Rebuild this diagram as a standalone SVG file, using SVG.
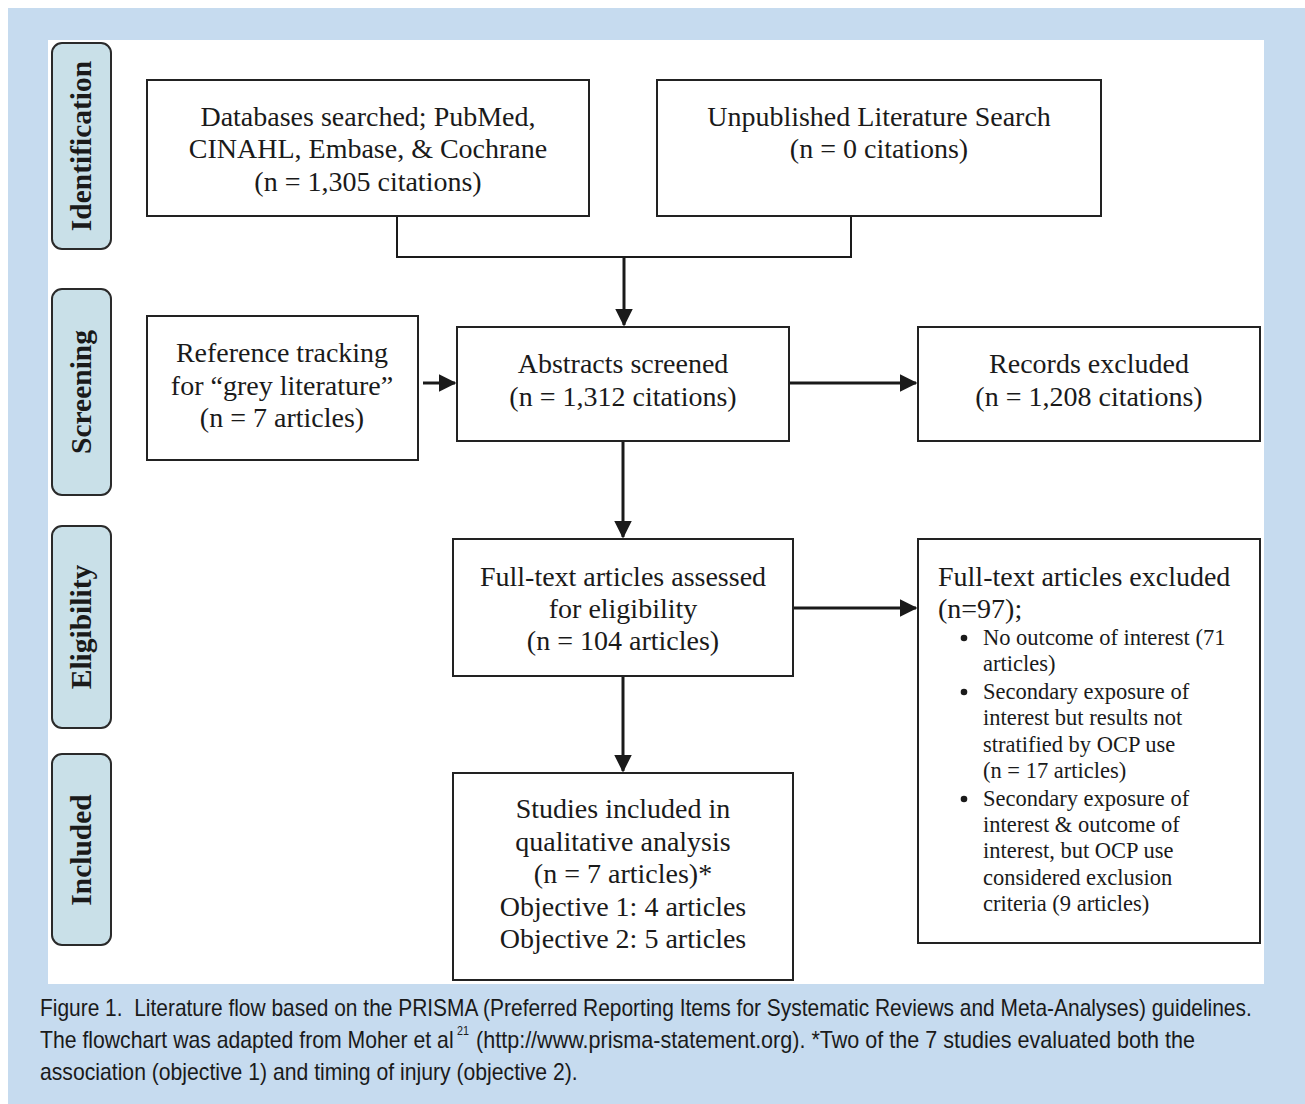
<svg xmlns="http://www.w3.org/2000/svg" width="1305" height="1104" viewBox="0 0 1305 1104">
<defs>
<style>
.bg{fill:#c6dbef}
.panel{fill:#ffffff}
.box{fill:#ffffff;stroke:#222;stroke-width:2}
.tab{fill:#c9e0e8;stroke:#2a2a2a;stroke-width:2}
.t{font-family:"Liberation Serif","Times New Roman",serif;font-size:28px;fill:#1a1a1a;text-anchor:middle}
.tl{font-family:"Liberation Serif","Times New Roman",serif;font-size:28px;fill:#1a1a1a}
.tb{font-family:"Liberation Serif","Times New Roman",serif;font-size:22.5px;fill:#1a1a1a}
.side{font-family:"Liberation Serif","Times New Roman",serif;font-size:29.5px;font-weight:bold;fill:#1a1a1a;text-anchor:middle}
.cap{font-family:"Liberation Sans",Arial,sans-serif;font-size:23px;fill:#1a1a1a}
.sup{font-family:"Liberation Sans",Arial,sans-serif;font-size:13px;fill:#1a1a1a}
.ln{fill:none;stroke:#1a1a1a;stroke-width:2}
.ar{fill:none;stroke:#1a1a1a;stroke-width:3;marker-end:url(#ah)}
</style>
<marker id="ah" markerWidth="6" markerHeight="6" refX="5.5" refY="3" orient="auto" markerUnits="strokeWidth" viewBox="0 0 6 6">
<path d="M0,0 L6,3 L0,6 z" fill="#1a1a1a"/>
</marker>
</defs>
<rect class="bg" x="8" y="8" width="1297" height="1096"/>
<rect class="panel" x="48" y="40" width="1216" height="944"/>

<g id="tab-identification">
<rect class="tab" x="52" y="43" width="59" height="206" rx="10"/>
<text class="side" transform="translate(91,146) rotate(-90)">Identification</text>
</g>
<g id="tab-screening">
<rect class="tab" x="52" y="289" width="59" height="206" rx="10"/>
<text class="side" transform="translate(91,392) rotate(-90)">Screening</text>
</g>
<g id="tab-eligibility">
<rect class="tab" x="52" y="526" width="59" height="202" rx="10"/>
<text class="side" transform="translate(91,627) rotate(-90)">Eligibility</text>
</g>
<g id="tab-included">
<rect class="tab" x="52" y="754" width="59" height="191" rx="10"/>
<text class="side" transform="translate(91,850) rotate(-90)">Included</text>
</g>

<g id="connectors">
<path class="ln" d="M397,216 V257 H851 V216"/>
<path class="ar" d="M624,257 V325"/>
<path class="ar" d="M423,383 H455"/>
<path class="ar" d="M789,383 H916"/>
<path class="ar" d="M623,441 V537"/>
<path class="ar" d="M793,608 H916"/>
<path class="ar" d="M623,676 V771"/>
</g>

<g id="n-databases">
<rect class="box" x="147" y="80" width="442" height="136"/>
<text class="t" x="368" y="126">Databases searched; PubMed,</text>
<text class="t" x="368" y="158">CINAHL, Embase, &amp; Cochrane</text>
<text class="t" x="368" y="191">(n = 1,305 citations)</text>
</g>
<g id="n-unpublished">
<rect class="box" x="657" y="80" width="444" height="136"/>
<text class="t" x="879" y="126">Unpublished Literature Search</text>
<text class="t" x="879" y="158">(n = 0 citations)</text>
</g>
<g id="n-reference">
<rect class="box" x="147" y="316" width="271" height="144"/>
<text class="t" x="282" y="362">Reference tracking</text>
<text class="t" x="282" y="395">for “grey literature”</text>
<text class="t" x="282" y="427">(n = 7 articles)</text>
</g>
<g id="n-abstracts">
<rect class="box" x="457" y="327" width="332" height="114"/>
<text class="t" x="623" y="373">Abstracts screened</text>
<text class="t" x="623" y="406">(n = 1,312 citations)</text>
</g>
<g id="n-records">
<rect class="box" x="918" y="327" width="342" height="114"/>
<text class="t" x="1089" y="373">Records excluded</text>
<text class="t" x="1089" y="406">(n = 1,208 citations)</text>
</g>
<g id="n-fulltext">
<rect class="box" x="453" y="539" width="340" height="137"/>
<text class="t" x="623" y="586">Full-text articles assessed</text>
<text class="t" x="623" y="618">for eligibility</text>
<text class="t" x="623" y="650">(n = 104 articles)</text>
</g>
<g id="n-excluded">
<rect class="box" x="918" y="539" width="342" height="404"/>
<text class="tl" x="938" y="586">Full-text articles excluded</text>
<text class="tl" x="938" y="618">(n=97);</text>
<circle cx="964" cy="638" r="3.3" fill="#1a1a1a"/>
<circle cx="964" cy="692" r="3.3" fill="#1a1a1a"/>
<circle cx="964" cy="799" r="3.3" fill="#1a1a1a"/>
<text class="tb" x="983" y="645">No outcome of interest (71</text>
<text class="tb" x="983" y="671">articles)</text>
<text class="tb" x="983" y="699">Secondary exposure of</text>
<text class="tb" x="983" y="725">interest but results not</text>
<text class="tb" x="983" y="752">stratified by OCP use</text>
<text class="tb" x="983" y="778">(n = 17 articles)</text>
<text class="tb" x="983" y="806">Secondary exposure of</text>
<text class="tb" x="983" y="832">interest &amp; outcome of</text>
<text class="tb" x="983" y="858">interest, but OCP use</text>
<text class="tb" x="983" y="885">considered exclusion</text>
<text class="tb" x="983" y="911">criteria (9 articles)</text>
</g>
<g id="n-included">
<rect class="box" x="453" y="773" width="340" height="207"/>
<text class="t" x="623" y="818">Studies included in</text>
<text class="t" x="623" y="851">qualitative analysis</text>
<text class="t" x="623" y="883">(n = 7 articles)*</text>
<text class="t" x="623" y="916">Objective 1: 4 articles</text>
<text class="t" x="623" y="948">Objective 2: 5 articles</text>
</g>

<g id="caption">
<text class="cap" transform="translate(40,1016) scale(0.88,1)" x="0" y="0" textLength="1377" lengthAdjust="spacingAndGlyphs" xml:space="preserve">Figure 1.  Literature flow based on the PRISMA (Preferred Reporting Items for Systematic Reviews and Meta-Analyses) guidelines.</text>
<text class="cap" transform="translate(40,1048) scale(0.88,1)" x="0" y="0" textLength="470" lengthAdjust="spacingAndGlyphs">The flowchart was adapted from Moher et al</text>
<text class="sup" x="457" y="1035" textLength="12" lengthAdjust="spacingAndGlyphs">21</text>
<text class="cap" transform="translate(476,1048) scale(0.88,1)" x="0" y="0" textLength="817" lengthAdjust="spacingAndGlyphs">(http://www.prisma-statement.org). *Two of the 7 studies evaluated both the</text>
<text class="cap" transform="translate(40,1080) scale(0.88,1)" x="0" y="0" textLength="611" lengthAdjust="spacingAndGlyphs">association (objective 1) and timing of injury (objective 2).</text>
</g>
</svg>
